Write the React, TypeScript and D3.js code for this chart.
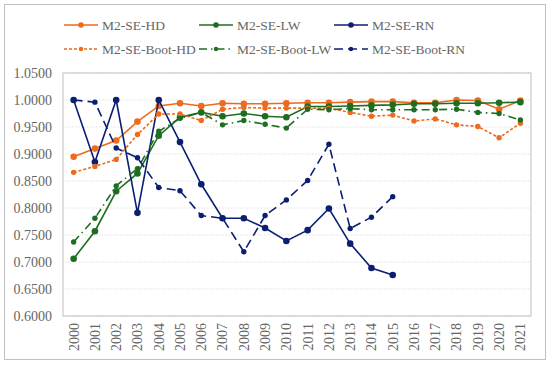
import * as d3 from "d3";

const years = d3.range(2000, 2022).map(String);
const yTicks = [0.6, 0.65, 0.7, 0.75, 0.8, 0.85, 0.9, 0.95, 1.0, 1.05];

const hd = [0.895, 0.91, 0.925, 0.96, 0.989, 0.994, 0.989, 0.994, 0.993, 0.993, 0.994, 0.995, 0.995, 0.996, 0.997, 0.997, 0.995, 0.995, 1.0, 0.999, 0.983, 0.999];
const lw = [0.706, 0.757, 0.831, 0.864, 0.934, 0.968, 0.977, 0.97, 0.975, 0.97, 0.968, 0.988, 0.988, 0.989, 0.99, 0.991, 0.993, 0.993, 0.994, 0.994, 0.995, 0.996];
const rn = [1.0, 0.885, 1.0, 0.791, 1.0, 0.922, 0.844, 0.781, 0.781, 0.763, 0.739, 0.759, 0.799, 0.734, 0.689, 0.676];
const bootHd = [0.866, 0.877, 0.89, 0.936, 0.974, 0.974, 0.962, 0.983, 0.986, 0.985, 0.985, 0.985, 0.985, 0.977, 0.97, 0.972, 0.961, 0.965, 0.954, 0.951, 0.93, 0.957];
const bootLw = [0.737, 0.781, 0.841, 0.873, 0.942, 0.966, 0.977, 0.954, 0.962, 0.955, 0.948, 0.983, 0.982, 0.984, 0.982, 0.982, 0.982, 0.982, 0.983, 0.977, 0.975, 0.963];
const bootRn = [1.0, 0.996, 0.911, 0.893, 0.838, 0.832, 0.786, 0.781, 0.719, 0.786, 0.815, 0.851, 0.918, 0.762, 0.783, 0.821];

const ORANGE = "#EE6A1C";
const GREEN = "#1E6E22";
const NAVY = "#0B1F72";

const series = [
  { name: "M2-SE-HD", values: hd, color: ORANGE, dash: "none", r: 3.3 },
  { name: "M2-SE-LW", values: lw, color: GREEN, dash: "none", r: 3.3 },
  { name: "M2-SE-RN", values: rn, color: NAVY, dash: "none", r: 3.3 },
  { name: "M2-SE-Boot-HD", values: bootHd, color: ORANGE, dash: "3,2", r: 2.7 },
  { name: "M2-SE-Boot-LW", values: bootLw, color: GREEN, dash: "8,4,1.5,4", r: 2.7 },
  { name: "M2-SE-Boot-RN", values: bootRn, color: NAVY, dash: "9,5", r: 2.7 },
];

const W = 550;
const H = 365;
const left = 63, right = 531, top = 73, bottom = 316;
const FONT = "'Liberation Serif', 'Times New Roman', serif";
const TEXT = "#666666";

export default function App() {
  const x = d3.scaleBand().domain(years).range([left, right]);
  const y = d3.scaleLinear().domain([0.6, 1.05]).range([bottom, top]);
  const cx = (i: number) => (x(years[i]) ?? 0) + x.bandwidth() / 2;
  const line = d3.line<number>().x((_, i) => cx(i)).y((d) => y(d));

  const legendCols = [64, 199, 334];
  const legendRows = [25, 49];

  return (
    <svg width={W} height={H} style={{ position: "absolute", left: 0, top: 0 }} fontFamily={FONT}>
      <rect x={0} y={0} width={W} height={H} fill="#fff" />
      <rect x={4.5} y={4.5} width={541} height={355} fill="none" stroke="#BFBFBF" strokeWidth={1} />

      {/* grid */}
      {yTicks.map((t) => (
        <line key={t} x1={left} x2={right} y1={y(t)} y2={y(t)} stroke="#D9D9D9" strokeWidth={0.8} strokeDasharray="1.5,1.5" />
      ))}
      <rect x={left} y={top} width={right - left} height={bottom - top} fill="none" stroke="#BFBFBF" strokeWidth={1} />

      {/* y labels */}
      {yTicks.map((t) => (
        <text key={t} x={52} y={y(t)} dy="0.35em" textAnchor="end" fontSize={14} fill={TEXT}>
          {d3.format(".4f")(t)}
        </text>
      ))}

      {/* x labels */}
      {years.map((yr, i) => (
        <text key={yr} transform={`translate(${cx(i)},323) rotate(-90)`} dy="0.35em" textAnchor="end" fontSize={14} fill={TEXT}>
          {yr}
        </text>
      ))}

      {/* series */}
      {series.map((s) => (
        <g key={s.name}>
          <path d={line(s.values) ?? ""} fill="none" stroke={s.color} strokeWidth={1.6} strokeDasharray={s.dash} />
          {s.values.map((v, i) => (
            <circle key={i} cx={cx(i)} cy={y(v)} r={s.r} fill={s.color} />
          ))}
        </g>
      ))}

      {/* legend */}
      {series.map((s, k) => {
        const lx = legendCols[k % 3];
        const ly = legendRows[Math.floor(k / 3)];
        return (
          <g key={s.name}>
            <line x1={lx} x2={lx + 34} y1={ly} y2={ly} stroke={s.color} strokeWidth={1.6} strokeDasharray={s.dash} />
            <circle cx={lx + 17} cy={ly} r={s.r - 0.5} fill={s.color} />
            <text x={lx + 38} y={ly} dy="0.35em" fontSize={13.5} fill={TEXT}>
              {s.name}
            </text>
          </g>
        );
      })}
    </svg>
  );
}
